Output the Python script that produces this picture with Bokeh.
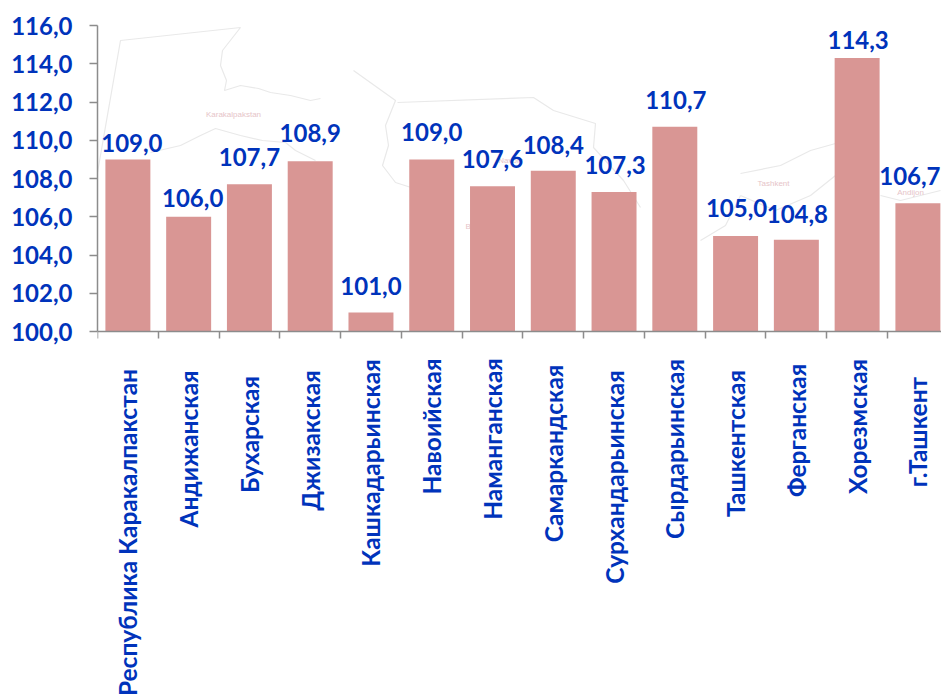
import math
from bokeh.plotting import figure
from bokeh.embed import file_html
from bokeh.resources import INLINE
from bokeh.models import ColumnDataSource, FixedTicker, CustomJSTickFormatter, LinearAxis
from bokeh.core.properties import value

categories = ["Республика Каракалпакстан","Андижанская","Бухарская","Джизакская","Кашкадарьинская","Навоийская","Наманганская","Самаркандская","Сурхандарьинская","Сырдарьинская","Ташкентская","Ферганская","Хорезмская","г.Ташкент"]
values = [109.0,106.0,107.7,108.9,101.0,109.0,107.6,108.4,107.3,110.7,105.0,104.8,114.3,106.7]
y_ticks = [100,102,104,106,108,110,112,114,116]
labels = [f"{v:.1f}".replace(".", ",") for v in values]
BLUE = "#0033BB"
AXIS = "#8C8C8C"
FONT = "Lato"

# hand placement of the value labels and category labels in the reference (px)
dx = [4,4,0,0,0,0,0,0,1,1,1,1,1,-8]
dy = [16,19,27,28,26,27,27,26,27,27,28,26,18,27]
cat_drop = [201,117.5,103,109,131.5,95,107.5,122,145.5,117.5,112,99,95,100.5]

# faint background map (traced in page pixels, converted below)
map_lines = [
    [(97,172),(120,40),(240,27),(222,50),(220,65),(226,80),(224,90),(240,85),(258,88),(270,92),(290,95),(310,100),(320,98)],
    [(150,152),(180,145),(200,135),(215,128),(240,135),(262,140),(285,142),(295,150),(315,160)],
    [(353,70),(395,100),(385,125),(388,145),(382,165),(395,182),(420,190),(445,195)],
    [(397,102),(533,97),(553,110),(595,123),(593,147),(623,180),(640,207)],
    [(740,173),(780,165),(810,150),(835,143)],
    [(740,195),(775,210),(810,195),(835,175)],
    [(700,240),(725,225),(740,195)],
    [(880,195),(900,200),(940,190)],
]
map_names = ["Karakalpakstan","Bukhara","Navoiy","Tashkent","Andijon"]
map_name_pos = [(233,114),(480,226),(510,160),(773,183),(910,192)]

W, H = 941, 696
L, T, B = 97, 25, 331
SLOT = 60.77
x_end = (W - L) / SLOT
to_x = lambda px: (px - L) / SLOT
to_y = lambda py: 100 + (B - py) * 16 / (B - T)

# the frame runs to the page's foot so that the rotated category texts stay inside it
p = figure(width=W, height=H, x_range=(0, x_end), y_range=(to_y(H), 116), output_backend="svg", toolbar_location=None,
           x_axis_location=None, min_border_left=L, min_border_right=0, min_border_top=T, min_border_bottom=0)
p.outline_line_color = None
p.grid.visible = False

for line in map_lines:
    p.line([to_x(a) for a, _ in line], [to_y(b) for _, b in line], line_color="#E9E9E9", line_width=1.2, level="underlay")
p.text([to_x(a) for a, _ in map_name_pos], [to_y(b) for _, b in map_name_pos], text=map_names, text_align="center", text_baseline="middle",
       text_font=value("Liberation Sans"), text_font_size="8px", text_color="#E6C4C8", level="underlay")

src = ColumnDataSource(dict(x=[i + 0.5 for i in range(14)], top=values, lab=labels, dx=dx, dy=[-d for d in dy]))
p.vbar(x="x", top="top", bottom=100, width=0.74, source=src, fill_color="#D99694", line_color=None)
p.text(x="x", y="top", text="lab", source=src, text_align="center", text_baseline="alphabetic", x_offset="dx", y_offset="dy",
       text_font=value(FONT), text_font_size="24px", text_font_style="bold", text_color=BLUE)

cat_src = ColumnDataSource(dict(x=[i + 0.5 for i in range(14)], y=[100] * 14, cat=categories, off=cat_drop))
p.text(x="x", y="y", text="cat", source=cat_src, angle=math.pi / 2, y_offset="off", text_align="center", text_baseline="middle",
       text_font=value(FONT), text_font_size="24.5px", text_font_style="bold", text_color=BLUE)

p.yaxis.ticker = FixedTicker(ticks=y_ticks)
p.yaxis.bounds = (100, 116)
p.yaxis.formatter = CustomJSTickFormatter(code="return tick.toFixed(1).replace('.', ',')")
p.yaxis.major_label_text_font = FONT
p.yaxis.major_label_text_font_size = "24px"
p.yaxis.major_label_text_font_style = "bold"
p.yaxis.major_label_text_color = BLUE
p.yaxis.axis_line_color = AXIS
p.yaxis.axis_line_width = 1.5
p.yaxis.major_tick_line_color = AXIS
p.yaxis.major_tick_line_width = 1.5
p.yaxis.major_tick_in = 0
p.yaxis.major_tick_out = 8
p.yaxis.minor_tick_line_color = None
p.yaxis.major_label_standoff = 17

xax = LinearAxis(fixed_location=100, ticker=FixedTicker(ticks=list(range(14))),
                 major_label_overrides={i: "" for i in range(14)})
xax.major_tick_line_color = AXIS
xax.major_tick_line_width = 1.5
xax.major_tick_in = 0
xax.major_tick_out = 7
xax.minor_tick_line_color = None
xax.axis_line_color = AXIS
xax.axis_line_width = 1.5
p.add_layout(xax, "below")
open("out.html", "w").write(file_html(p, INLINE))
